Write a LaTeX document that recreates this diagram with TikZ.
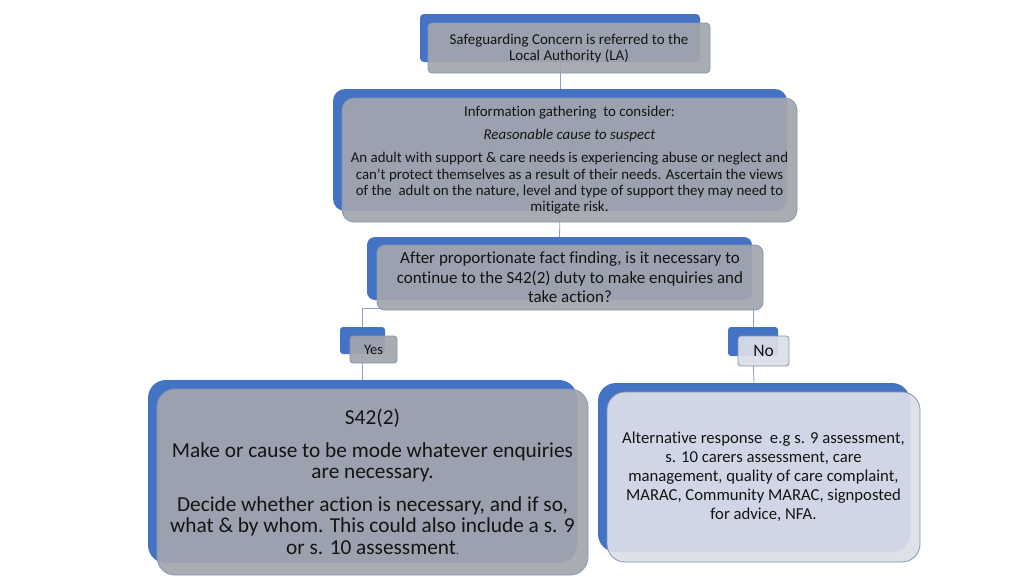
\documentclass[tikz,border=0pt]{standalone}
\usepackage{fontspec}
\setmainfont{Carlito}[Ligatures=NoCommon]
\usetikzlibrary{backgrounds}
\definecolor{bblue}{RGB}{68,114,196}
\definecolor{fgray}{RGB}{163,166,173}
\definecolor{flight}{RGB}{220,223,232}
\definecolor{edgec}{RGB}{132,150,180}
\definecolor{linec}{RGB}{140,160,195}
\definecolor{txt}{RGB}{20,20,20}
\tikzset{
  back/.style={fill=bblue, draw=none, inner sep=0pt},
  front/.style={fill=fgray, fill opacity=0.92, text opacity=1, draw=edgec, line width=0.8pt, inner sep=0pt, align=center, text=txt},
  frontlight/.style={front, fill=flight},
  conn/.style={draw=linec, line width=0.8pt},
}
\begin{document}
\begin{tikzpicture}[x=1pt,y=-1pt]
\useasboundingbox (0,0) rectangle (1024,576);

% blue back boxes
\node[back, rounded corners=4pt, minimum width=280pt, minimum height=48pt] (b1) at (560,38) {};
\node[back, rounded corners=12pt, minimum width=454pt, minimum height=122pt] (b2) at (560,150) {};
\node[back, rounded corners=8pt, minimum width=385pt, minimum height=63pt] (b3) at (559.5,268.5) {};
\node[back, rounded corners=3pt, minimum width=45pt, minimum height=27pt] (yb) at (362.5,340.5) {};
\node[back, rounded corners=3pt, minimum width=50pt, minimum height=29pt] (nb) at (753,341.5) {};
\node[back, rounded corners=18pt, minimum width=429pt, minimum height=183pt] (b4) at (362.5,471.5) {};
\node[back, rounded corners=18pt, minimum width=312pt, minimum height=169pt] (b5) at (754,467.5) {};

% background and connectors
\begin{scope}[on background layer]
\fill[white] (0,0) rectangle (1024,576);
\draw[conn] (b1.south) -- (b2.north);
\draw[conn] (b2.south) -- (b3.north);
\draw[conn] (b3.south) -- ++(0,8) -| (yb.north);
\draw[conn] (b3.south) -- ++(0,8) -| (nb.north);
\draw[conn] (yb.south) -- (b4.north);
\draw[conn] (nb.south) -- (b5.north);
\end{scope}

% front boxes with text
\node[front, rounded corners=4pt, minimum width=282pt, minimum height=50pt,
  font=\fontsize{15}{16}\selectfont] (f1) at (569,48)
  {Safeguarding Concern is referred to the\\Local Authority (LA)};
\node[front, rounded corners=12pt, minimum width=455pt, minimum height=124pt,
  font=\fontsize{14.9}{16.3}\selectfont] (f2) at (569.5,160)
  {Information gathering\ \ to consider:\\[7pt]
   \textit{Reasonable cause to suspect}\\[7pt]
   An adult with support \& care needs is experiencing abuse or neglect and\\
   can’t protect themselves as a result of their needs. Ascertain the views\\
   of the\ \ adult on the nature, level and type of support they may need to\\
   mitigate risk.};
\node[front, rounded corners=8pt, minimum width=386pt, minimum height=65pt,
  font=\fontsize{17}{19.5}\selectfont] (f3) at (570,277.5)
  {After proportionate fact finding, is it necessary to\\
   continue to the S42(2) duty to make enquiries and\\
   take action?};
\node[front, rounded corners=3pt, minimum width=47pt, minimum height=27pt,
  font=\fontsize{14.5}{15}\selectfont] (fy) at (373.5,349.5) {Yes};
\node[frontlight, rounded corners=3pt, minimum width=51pt, minimum height=30pt,
  font=\fontsize{17.5}{18}\selectfont] (fn) at (763.5,351) {No};
\node[front, rounded corners=18pt, minimum width=431pt, minimum height=186pt,
  font=\fontsize{21.3}{21.5}\selectfont] (f4) at (372.5,482)
  {S42(2)\\[11pt]
   Make or cause to be mode whatever enquiries\\
   are necessary.\\[11pt]
   Decide whether action is necessary, and if so,\\
   what \& by whom. This could also include a s. 9\\
   or s. 10 assessment{\fontsize{11}{11}\selectfont.}};
\node[frontlight, rounded corners=18pt, minimum width=313pt, minimum height=170pt,
  font=\fontsize{16.7}{19}\selectfont] (f5) at (763.5,477)
  {Alternative response\ \ e.g s. 9 assessment,\\
   s. 10 carers assessment, care\\
   management, quality of care complaint,\\
   MARAC, Community MARAC, signposted\\
   for advice, NFA.};
\end{tikzpicture}
\end{document}
